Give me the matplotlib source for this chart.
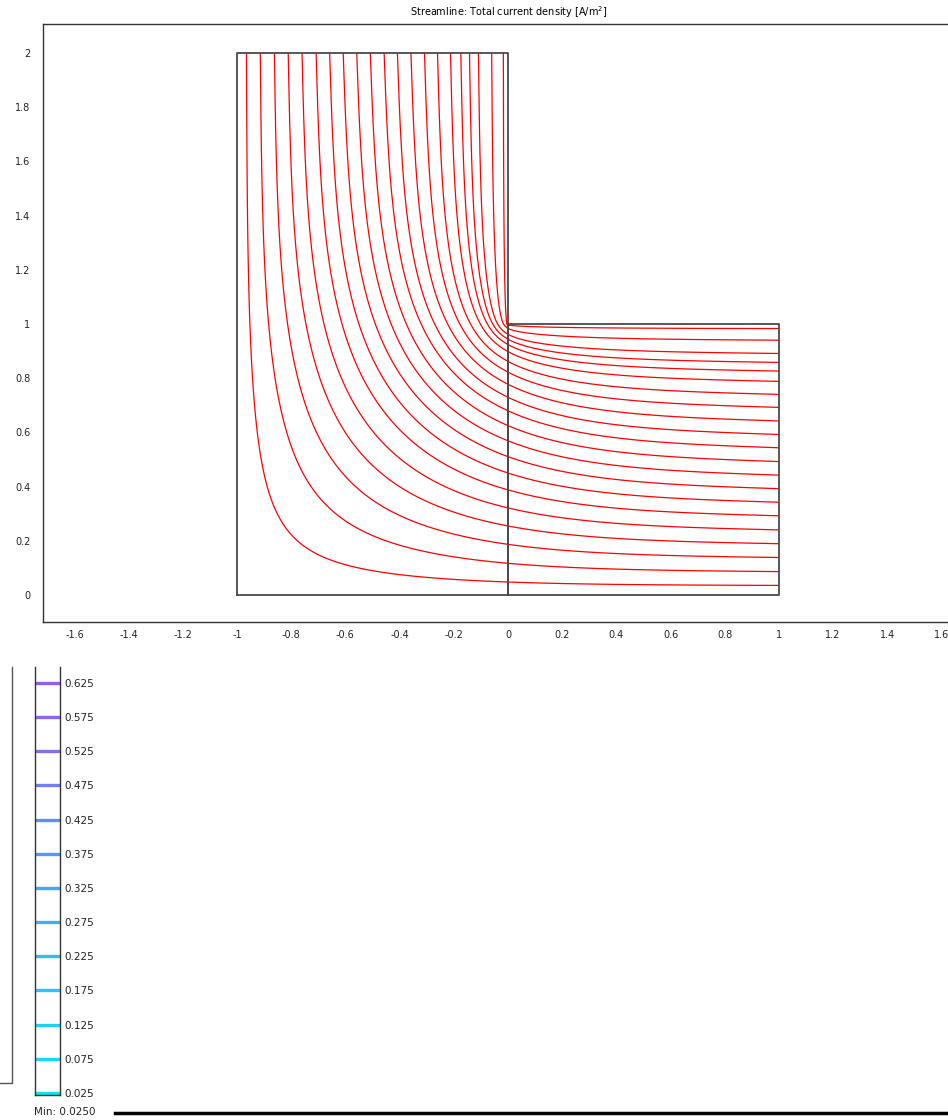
import numpy as np
import matplotlib
matplotlib.use("Agg")
import matplotlib.pyplot as plt
from matplotlib.colors import LinearSegmentedColormap
from matplotlib.lines import Line2D

# ---- data -------------------------------------------------------------
# stream-function values of the drawn streamlines (fraction of total current)
stream_levels = [0.035, 0.086, 0.138, 0.189, 0.240, 0.292, 0.342, 0.392,
                 0.442, 0.492, 0.543, 0.592, 0.642, 0.692, 0.740, 0.788,
                 0.826, 0.858, 0.891, 0.940, 0.983]

# legend entries of the colour scale
legend_values = [0.625, 0.575, 0.525, 0.475, 0.425, 0.375, 0.325,
                 0.275, 0.225, 0.175, 0.125, 0.075, 0.025]
legend_labels = ["0.625", "0.575", "0.525", "0.475", "0.425", "0.375", "0.325",
                 "0.275", "0.225", "0.175", "0.125", "0.075", "0.025"]
min_label = "Min: 0.0250"

x_ticks = [-1.6, -1.4, -1.2, -1.0, -0.8, -0.6, -0.4, -0.2, 0.0,
           0.2, 0.4, 0.6, 0.8, 1.0, 1.2, 1.4, 1.6]
x_tick_labels = ["-1.6", "-1.4", "-1.2", "-1", "-0.8", "-0.6", "-0.4", "-0.2", "0",
                 "0.2", "0.4", "0.6", "0.8", "1", "1.2", "1.4", "1.6"]
y_ticks = [0.0, 0.2, 0.4, 0.6, 0.8, 1.0, 1.2, 1.4, 1.6, 1.8, 2.0]
y_tick_labels = ["0", "0.2", "0.4", "0.6", "0.8", "1", "1.2", "1.4", "1.6", "1.8", "2"]

title = r"Streamline: Total current density [A/m$^2$]"

# ---- stream function of the current in the L-shaped conductor --------
n = 200
h = 2.0 / n
xs = -1.0 + h * np.arange(n + 1)
ys = h * np.arange(n + 1)
X, Y = np.meshgrid(xs, ys)
I, J = np.meshgrid(np.arange(n + 1), np.arange(n + 1), indexing="ij")
mid = n // 2

psi = np.full(X.shape, 0.5)
psi[:, 0] = 0.0                      # outer wall x = -1
psi[0, :] = 0.0                      # outer wall y = 0
psi[n, :mid + 1] = xs[:mid + 1] + 1  # uniform inflow at y = 2
psi[:mid + 1, n] = ys[:mid + 1]      # uniform outflow at x = 1
psi[mid:, mid] = 1.0                 # inner wall x = 0
psi[mid, mid:] = 1.0                 # inner wall y = 1
outside = (I > mid) & (J > mid)
psi[outside] = 1.0

interior = (I > 0) & (I < n) & (J > 0) & (J < n) & ~((I >= mid) & (J >= mid))
red = interior & ((I + J) % 2 == 0)
black = interior & ((I + J) % 2 == 1)
omega = 2.0 / (1.0 + np.sin(np.pi * h))

for _ in range(2500):
    for m in (red, black):
        avg = np.zeros_like(psi)
        avg[1:-1, 1:-1] = 0.25 * (psi[:-2, 1:-1] + psi[2:, 1:-1] +
                                  psi[1:-1, :-2] + psi[1:-1, 2:])
        psi[m] += omega * (avg[m] - psi[m])

psi_plot = np.ma.masked_where(outside, psi)

# ---- figure -----------------------------------------------------------
W, H = 948, 1120
fig = plt.figure(figsize=(W / 100, H / 100), dpi=100)
plt.rcParams["font.family"] = ["DejaVu Sans"]


def fx(px):
    return px / W


def fy(py):
    return 1 - py / H


ax = fig.add_axes([fx(43), fy(622), (W - 43) / W, (622 - 24) / H])
ax.set_xlim(-1.716, 1.624)
ax.set_ylim(-0.1, 2.107)

ax.contour(X, Y, psi_plot, levels=stream_levels, colors="#ff0000",
           linewidths=0.9)

edge = "#4a4a4a"
# left block and right block of the geometry
ax.plot([-1, 0, 0, -1, -1], [0, 0, 2, 2, 0], color=edge, lw=1.3)
ax.plot([0, 1, 1, 0, 0], [0, 0, 1, 1, 0], color=edge, lw=1.3)

ax.set_xticks(x_ticks)
ax.set_xticklabels(x_tick_labels)
ax.set_yticks(y_ticks)
ax.set_yticklabels(y_tick_labels)
ax.tick_params(axis="both", length=0, labelsize=7, colors="#222222")
ax.tick_params(axis="x", pad=6)
ax.tick_params(axis="y", pad=9)
ax.spines["right"].set_visible(False)
for s in ("left", "top", "bottom"):
    ax.spines[s].set_color("#333333")
    ax.spines[s].set_linewidth(1.0)

fig.text(fx(509), fy(12), title, ha="center", va="center", fontsize=7)

# ---- colour legend ----------------------------------------------------
cmap = LinearSegmentedColormap.from_list(
    "scale", ["#10e2f4", "#28c8f5", "#46a5fa", "#737df5", "#965af0"])
vmin, vmax = min(legend_values), max(legend_values)

cax = fig.add_axes([fx(35), fy(1095), 25 / W, (1095 - 667) / H])
cax.set_xlim(0, 1)
cax.set_ylim(0.0222, 0.648)
for v in legend_values:
    cax.axhline(v, color=cmap((v - vmin) / (vmax - vmin)), lw=2.4)
cax.set_xticks([])
cax.yaxis.tick_right()
cax.set_yticks(legend_values)
cax.set_yticklabels(legend_labels)
cax.tick_params(axis="y", length=0, pad=3, labelsize=7.5, colors="#222222")
cax.spines["top"].set_visible(False)
for s in ("left", "right", "bottom"):
    cax.spines[s].set_color("#333333")
    cax.spines[s].set_linewidth(1.0)

# frame edge of the legend area
fig.add_artist(Line2D([fx(12), fx(12), fx(0)], [fy(667), fy(1083), fy(1083)],
                      color="#555555", lw=1.0))

fig.text(fx(34), fy(1112), min_label, ha="left", va="center", fontsize=7.5,
         color="#222222")
fig.add_artist(Line2D([fx(115), fx(948)], [fy(1113), fy(1113)],
                      color="black", lw=2.5))

fig.savefig("out.png", dpi=100)
